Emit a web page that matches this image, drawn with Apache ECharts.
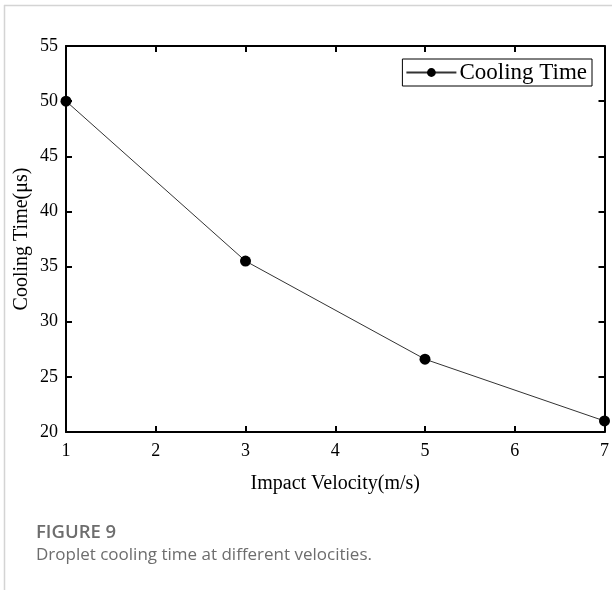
<!DOCTYPE html>
<html>
<head>
<meta charset="utf-8">
<script src="https://cdn.jsdelivr.net/npm/echarts@6/dist/echarts.min.js"></script>
<style>
    html, body { margin: 0; padding: 0; background: #fff; }
    #chart { width: 612px; height: 590px; }
</style>
</head>
<body>
<div id="chart"></div>
<script>
// data
const velocities = [1, 3, 5, 7];
const coolingTimes = [50, 35.5, 26.6, 21];
const seriesName = 'Cooling Time';
const xName = 'Impact Velocity(m/s)';
const yName = 'Cooling Time(μs)';

const serif = '"Liberation Serif", "Times New Roman", serif';
const chart = echarts.init(document.getElementById('chart'));

const axisCommon = {
    axisLine: { show: true, onZero: false, lineStyle: { color: '#000', width: 2 } },
    axisTick: { show: true, inside: true, length: 6, lineStyle: { color: '#000', width: 2 } },
    splitLine: { show: false }
};

const option = {
    backgroundColor: '#fff',
    animation: false,
    grid: { left: 66, right: 6, top: 46, bottom: 158, containLabel: false },
    legend: {
        data: [seriesName],
        right: 20,
        top: 59,
        itemWidth: 50,
        itemHeight: 11,
        itemGap: 4,
        padding: [2, 5, 2, 3],
        borderColor: '#000',
        borderWidth: 1,
        borderRadius: 0,
        textStyle: { fontFamily: serif, fontSize: 23, color: '#000', padding: [0, 0, 0, -2] }
    },
    xAxis: [{
        ...axisCommon,
        type: 'value',
        min: 1, max: 7, interval: 1,
        position: 'bottom',
        name: xName,
        nameLocation: 'middle',
        nameGap: 42,
        nameTextStyle: { fontFamily: serif, fontSize: 20, color: '#000' },
        axisLabel: { fontFamily: serif, fontSize: 18, color: '#000', margin: 10 }
    }, {
        ...axisCommon,
        type: 'value',
        min: 1, max: 7, interval: 1,
        position: 'top',
        axisLabel: { show: false }
    }],
    yAxis: [{
        ...axisCommon,
        type: 'value',
        min: 20, max: 55, interval: 5,
        position: 'left',
        name: yName,
        nameLocation: 'middle',
        nameGap: 34,
        nameMoveOverlap: false,
        nameTextStyle: { fontFamily: serif, fontSize: 20, color: '#000' },
        axisLabel: { fontFamily: serif, fontSize: 18, color: '#000', margin: 8 }
    }, {
        ...axisCommon,
        type: 'value',
        min: 20, max: 55, interval: 5,
        position: 'right',
        axisLabel: { show: false }
    }],
    series: [{
        name: seriesName,
        type: 'line',
        data: velocities.map((v, i) => [v, coolingTimes[i]]),
        symbol: 'circle',
        symbolSize: 11,
        itemStyle: { color: '#000' },
        lineStyle: { color: '#333', width: 1 },
        clip: false
    }],
    graphic: [
        // page frame lines
        { type: 'line', shape: { x1: 4, y1: 5.5, x2: 612, y2: 5.5 }, style: { stroke: '#d4d4d4', lineWidth: 1.5 } },
        { type: 'line', shape: { x1: 4.5, y1: 5, x2: 4.5, y2: 590 }, style: { stroke: '#d4d4d4', lineWidth: 1.5 } },
        {
            type: 'text', left: 36, top: 523,
            style: { text: 'FIGURE 9', fontFamily: '"Open Sans", sans-serif', fontSize: 18.5, fontWeight: 600, fill: '#6d6d6d' }
        },
        {
            type: 'text', left: 36, top: 547,
            style: { text: 'Droplet cooling time at different velocities.', fontFamily: '"Open Sans", sans-serif', fontSize: 17, fill: '#6d6d6d' }
        }
    ]
};

chart.setOption(option);
</script>
</body>
</html>
